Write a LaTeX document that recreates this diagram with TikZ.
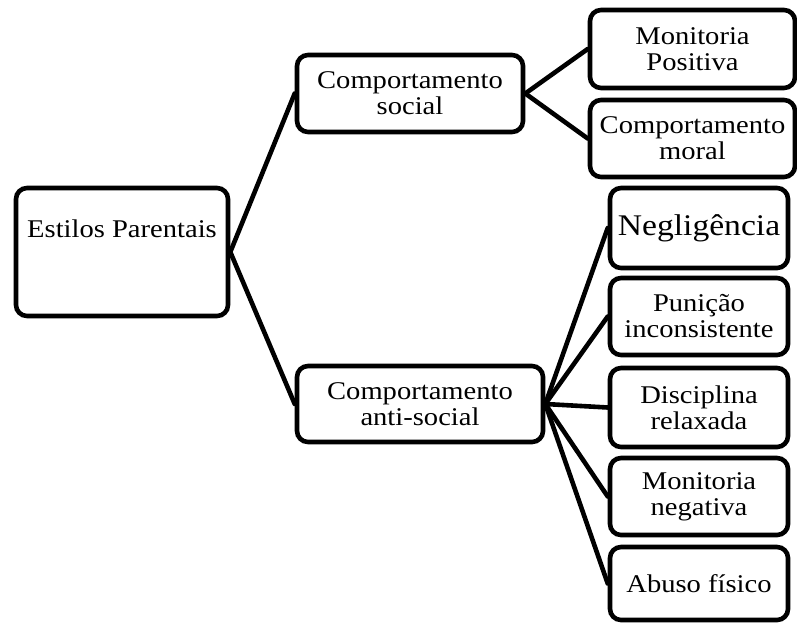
\documentclass[tikz,border=0pt]{standalone}
\usepackage{fontspec}
\setmainfont{Liberation Serif}[FakeStretch=1.12]
\begin{document}
\begin{tikzpicture}[x=1pt,y=-1pt,
  box/.style={draw, line width=4.6pt, rounded corners=11pt, inner sep=0pt, align=center,
    font=\fontsize{25.5}{26}\selectfont},
  txt/.style={inner sep=0pt, align=center, font=\fontsize{25.5}{26}\selectfont},
  link/.style={line width=4.6pt, line cap=round}]
\useasboundingbox (0,0) rectangle (797,623);
% nodes
\node[box, minimum width=212pt, minimum height=128pt] (ep) at (122,252) {};
\node[txt] (eptext) at (122,228.5) {Estilos Parentais};
\node[box, minimum width=226pt, minimum height=77pt] (cs) at (410,93.5) {Comportamento\\social};
\node[box, minimum width=246pt, minimum height=76pt] (ca) at (420,404) {Comportamento\\anti-social};
\node[box, minimum width=205pt, minimum height=78pt] (mp) at (692.5,49) {Monitoria\\Positiva};
\node[box, minimum width=205pt, minimum height=77pt] (cm) at (692.5,138.5) {Comportamento\\moral};
\node[box, minimum width=178pt, minimum height=80pt, font=\fontsize{30}{31}\selectfont] (ng) at (699,228) {Negligência};
\node[box, minimum width=178pt, minimum height=77pt] (pi) at (699,316.5) {Punição\\inconsistente};
\node[box, minimum width=178pt, minimum height=79pt] (dr) at (699,407.5) {Disciplina\\relaxada};
\node[box, minimum width=178pt, minimum height=77pt] (mn) at (699,496.5) {Monitoria\\negativa};
\node[box, minimum width=178pt, minimum height=73pt] (af) at (699,583.5) {Abuso físico};
% connectors
\draw[link] (ep.east) -- (cs.west);
\draw[link] (ep.east) -- (ca.west);
\draw[link] (cs.east) -- (mp.west);
\draw[link] (cs.east) -- (cm.west);
\draw[link] (ca.east) -- (ng.west);
\draw[link] (ca.east) -- (pi.west);
\draw[link] (ca.east) -- (dr.west);
\draw[link] (ca.east) -- (mn.west);
\draw[link] (ca.east) -- (af.west);
\end{tikzpicture}
\end{document}
